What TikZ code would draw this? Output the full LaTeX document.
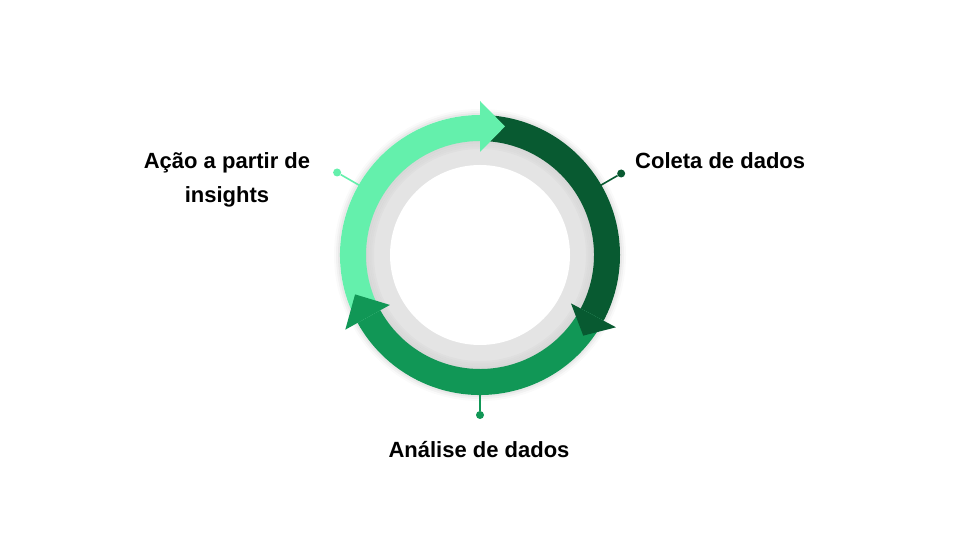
\documentclass[tikz,border=0pt]{standalone}
\usepackage{fontspec}
\setmainfont{Liberation Sans}
\definecolor{lightg}{HTML}{64F0AC}
\definecolor{darkg}{HTML}{085A31}
\definecolor{midg}{HTML}{119756}
\definecolor{ringgray}{HTML}{E4E4E4}
\newcommand\cycband[3]{% color, start angle, end angle
  \fill[#1] ([shift={(#2:140)}]c) arc[start angle=#2, end angle=#3, radius=140]
    -- ([shift={(#3:114)}]c) arc[start angle=#3, end angle=#2, radius=114] -- cycle;}
\newcommand\cychead[3]{% color, base angle, tip angle
  \fill[#1] ([shift={(#2:103)}]c) -- ([shift={(#2:154)}]c) -- ([shift={(#3:131)}]c) -- cycle;}
\begin{document}
\begin{tikzpicture}[x=1pt,y=1pt,
  lbl/.style={font=\fontsize{22}{34}\selectfont\bfseries, text=black, inner sep=0pt},
  dotmark/.style={circle, fill=#1, inner sep=0pt, minimum size=8pt},
  leader/.style={draw=#1, line width=1.6pt}]
\useasboundingbox (0,0) rectangle (960,540);
\fill[white] (0,0) rectangle (960,540);
\coordinate (c) at (480,285);
% outer soft shadow
\foreach \r/\o in {146/0.02,144/0.03,142/0.04}{
  \fill[black, opacity=\o] (c) circle[radius=\r];}
\fill[white] (c) circle[radius=140];
% gray ring
\fill[ringgray] (c) circle[radius=116];
% inner shadow from arrow band
\foreach \r/\o in {116/0.05,114/0.05,112/0.04,110/0.03,108/0.02}{
  \fill[black, opacity=\o, even odd rule] (c) circle[radius=\r] (c) circle[radius=\r-2];}
\fill[white] (c) circle[radius=90];
% leader lines and dots
\node[dotmark=darkg] (d1) at ([shift={(30:163)}]c) {};
\node[dotmark=midg] (d2) at ([shift={(270:160)}]c) {};
\node[dotmark=lightg] (d3) at ([shift={(150:165)}]c) {};
\coordinate (s1) at ([shift={(30:130)}]c);
\coordinate (s2) at ([shift={(270:130)}]c);
\coordinate (s3) at ([shift={(150:130)}]c);
\draw[leader=darkg] (s1) -- (d1);
\draw[leader=midg] (s2) -- (d2);
\draw[leader=lightg] (s3) -- (d3);
% arrow bands
\cycband{lightg}{209}{90}
\cycband{darkg}{90}{-28}
\cycband{midg}{-28}{-151}
% arrow heads
\cychead{lightg}{90}{79}
\cychead{darkg}{-28}{-38}
\cychead{midg}{-151}{-162.5}
% labels
\node[lbl, anchor=base west] (t1) at (635,371) {Coleta de dados};
\node[lbl, anchor=base] (t2) at (479,82) {Análise de dados};
\node[lbl, anchor=base, align=center] (t3) at (227,337) {Ação a partir de\\insights};
\end{tikzpicture}
\end{document}
